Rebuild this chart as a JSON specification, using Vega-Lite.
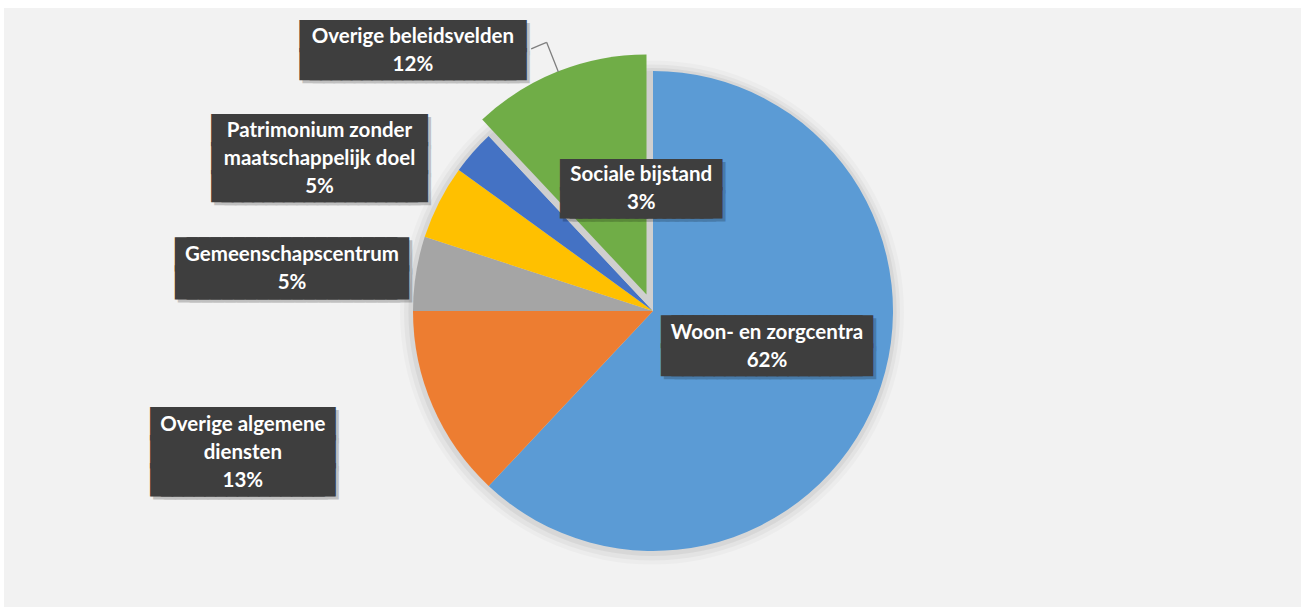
{
  "$schema": "https://vega.github.io/schema/vega-lite/v6.json",
  "width": 1297,
  "height": 599,
  "autosize": {"type": "none"},
  "padding": {"left": 4, "top": 8, "right": 0, "bottom": 0},
  "background": "white",
  "view": {"fill": "#f2f2f2", "stroke": null},
  "config": {
    "view": {"fill": "#f2f2f2", "stroke": null},
    "text": {"font": "Lato", "fontSize": 20.5, "fontWeight": "bold", "lineHeight": 28, "lineBreak": "\n", "align": "center", "baseline": "middle"}
  },
  "data": {
    "values": [
      {"name": "Woon- en zorgcentra", "value": 62},
      {"name": "Overige algemene\ndiensten", "value": 13},
      {"name": "Gemeenschapscentrum", "value": 5},
      {"name": "Patrimonium zonder\nmaatschappelijk doel", "value": 5},
      {"name": "Sociale bijstand", "value": 3},
      {"name": "Overige beleidsvelden", "value": 12}
    ]
  },
  "transform": [
    {"window": [{"op": "row_number", "as": "idx"}]},
    {"stack": "value", "groupby": [], "sort": [{"field": "idx"}], "as": ["s0", "s1"]},
    {"calculate": "(datum.s0 + datum.s1) / 2", "as": "mid"},
    {"calculate": "datum.name + '\\n' + datum.value + '%'", "as": "label"},
    {"calculate": "split(datum.label, '\\n')", "as": "ls"},
    {"calculate": "length(datum.ls[0]) >= length(datum.ls[1]) ? (length(datum.ls[0]) >= length(datum.ls[2] || '') ? datum.ls[0] : datum.ls[2]) : (length(datum.ls[1]) >= length(datum.ls[2] || '') ? datum.ls[1] : datum.ls[2])", "as": "longest"},
    {"calculate": "length(datum.ls) == 3 ? datum.longest + '\\n' + datum.longest + '\\n' + datum.longest : datum.longest + '\\n' + datum.longest", "as": "boxtext"},
    {"calculate": "pad('', length(datum.longest), '█')", "as": "blk"},
    {"calculate": "length(datum.ls) == 3 ? datum.blk + '\\n' + datum.blk + '\\n' + datum.blk : datum.blk + '\\n' + datum.blk", "as": "blocks"}
  ],
  "layer": [
    {
      "transform": [{"aggregate": [{"op": "count", "as": "n"}]}],
      "layer": [
        {"mark": {"type": "arc", "outerRadius": 252, "xOffset": -0.5, "yOffset": 5, "fill": "#000", "opacity": 0.025}, "encoding": {}},
        {"mark": {"type": "arc", "outerRadius": 248, "xOffset": -0.5, "yOffset": 5, "fill": "#000", "opacity": 0.035}, "encoding": {}},
        {"mark": {"type": "arc", "outerRadius": 244, "xOffset": 0, "yOffset": 4.5, "fill": "#000", "opacity": 0.05}, "encoding": {}}
      ]
    },
    {
      "mark": {"type": "arc", "outerRadius": 240, "xOffset": 0.5, "yOffset": 3.5},
      "encoding": {
        "theta": {"field": "s0", "type": "quantitative", "scale": {"domain": [0, 100]}},
        "theta2": {"field": "s1"},
        "color": {
          "field": "name",
          "type": "nominal",
          "scale": {
            "domain": ["Woon- en zorgcentra", "Overige algemene\ndiensten", "Gemeenschapscentrum", "Patrimonium zonder\nmaatschappelijk doel", "Sociale bijstand", "Overige beleidsvelden"],
            "range": ["#5b9bd5", "#ed7d31", "#a5a5a5", "#ffc000", "#4472c4", "#cfcfcf"]
          },
          "legend": null
        }
      }
    },
    {
      "transform": [{"filter": {"field": "name", "equal": "Overige beleidsvelden"}}],
      "layer": [
        {
          "mark": {"type": "arc", "outerRadius": 240, "xOffset": -6, "yOffset": -13, "fill": "#70ad47"},
          "encoding": {
            "theta": {"field": "s0", "type": "quantitative"},
            "theta2": {"field": "s1"}
          }
        },
        {
          "mark": {"type": "arc", "innerRadius": 257, "outerRadius": 289, "xOffset": 0.5, "yOffset": 3.5, "fill": "transparent", "stroke": "#7f7f7f", "strokeWidth": 1.3},
          "encoding": {
            "theta": {"field": "mid", "type": "quantitative"},
            "theta2": {"field": "mid"}
          }
        },
        {
          "mark": {"type": "arc", "innerRadius": 289, "outerRadius": 289, "theta2Offset": -0.058, "xOffset": 0.5, "yOffset": 3.5, "fill": "transparent", "stroke": "#7f7f7f", "strokeWidth": 1.3},
          "encoding": {
            "theta": {"field": "mid", "type": "quantitative"},
            "theta2": {"field": "mid"}
          }
        }
      ]
    },
    {
      "transform": [{"filter": {"field": "name", "equal": "Woon- en zorgcentra"}}],
      "encoding": {"theta": {"field": "mid", "type": "quantitative"}},
      "layer": [
        {"mark": {"type": "text", "radius": 121, "dx": 5, "dy": -16, "font": "DejaVu Sans Mono", "fontSize": 17.5, "fontWeight": "normal", "fill": "#000", "stroke": "#000", "strokeWidth": 12, "opacity": 0.2}, "encoding": {"text": {"field": "blocks"}}},
        {"mark": {"type": "text", "radius": 121, "dx": 2, "dy": -19, "font": "DejaVu Sans Mono", "fontSize": 17.5, "fontWeight": "normal", "fill": "#3e3e3e", "stroke": "#3e3e3e", "strokeWidth": 12}, "encoding": {"text": {"field": "blocks"}}},
        {"mark": {"type": "text", "radius": 121, "dx": 2, "dy": -19, "fill": "#3e3e3e", "stroke": "#3e3e3e", "strokeWidth": 10, "strokeJoin": "round"}, "encoding": {"text": {"field": "boxtext"}}},
        {"mark": {"type": "text", "radius": 121, "dx": 2, "dy": -19, "fill": "white"}, "encoding": {"text": {"field": "label"}}}
      ]
    },
    {
      "transform": [{"filter": {"field": "name", "equal": "Overige algemene\ndiensten"}}],
      "encoding": {"theta": {"field": "mid", "type": "quantitative"}},
      "layer": [
        {"mark": {"type": "text", "radius": 430, "dx": -12, "dy": -50, "font": "DejaVu Sans Mono", "fontSize": 18, "fontWeight": "normal", "fill": "#000", "stroke": "#000", "strokeWidth": 12, "opacity": 0.2}, "encoding": {"text": {"field": "blocks"}}},
        {"mark": {"type": "text", "radius": 430, "dx": -15, "dy": -53, "font": "DejaVu Sans Mono", "fontSize": 18, "fontWeight": "normal", "fill": "#3e3e3e", "stroke": "#3e3e3e", "strokeWidth": 12}, "encoding": {"text": {"field": "blocks"}}},
        {"mark": {"type": "text", "radius": 430, "dx": -15, "dy": -53, "fill": "#3e3e3e", "stroke": "#3e3e3e", "strokeWidth": 10, "strokeJoin": "round"}, "encoding": {"text": {"field": "boxtext"}}},
        {"mark": {"type": "text", "radius": 430, "dx": -15, "dy": -53, "fill": "white"}, "encoding": {"text": {"field": "label"}}}
      ]
    },
    {
      "transform": [{"filter": {"field": "name", "equal": "Gemeenschapscentrum"}}],
      "encoding": {"theta": {"field": "mid", "type": "quantitative"}},
      "layer": [
        {"mark": {"type": "text", "radius": 364, "dx": 2, "dy": 7, "font": "DejaVu Sans Mono", "fontSize": 19.5, "fontWeight": "normal", "fill": "#000", "stroke": "#000", "strokeWidth": 11, "opacity": 0.2}, "encoding": {"text": {"field": "blocks"}}},
        {"mark": {"type": "text", "radius": 364, "dx": -1, "dy": 4, "font": "DejaVu Sans Mono", "fontSize": 19.5, "fontWeight": "normal", "fill": "#3e3e3e", "stroke": "#3e3e3e", "strokeWidth": 11}, "encoding": {"text": {"field": "blocks"}}},
        {"mark": {"type": "text", "radius": 364, "dx": -1, "dy": 4, "fill": "#3e3e3e", "stroke": "#3e3e3e", "strokeWidth": 10, "strokeJoin": "round"}, "encoding": {"text": {"field": "boxtext"}}},
        {"mark": {"type": "text", "radius": 364, "dx": -1, "dy": 4, "fill": "white"}, "encoding": {"text": {"field": "label"}}}
      ]
    },
    {
      "transform": [{"filter": {"field": "name", "equal": "Patrimonium zonder\nmaatschappelijk doel"}}],
      "encoding": {"theta": {"field": "mid", "type": "quantitative"}},
      "layer": [
        {"mark": {"type": "text", "radius": 367, "dx": -3, "dy": -7, "font": "DejaVu Sans Mono", "fontSize": 17, "fontWeight": "normal", "fill": "#000", "stroke": "#000", "strokeWidth": 12, "opacity": 0.2}, "encoding": {"text": {"field": "blocks"}}},
        {"mark": {"type": "text", "radius": 367, "dx": -6, "dy": -10, "font": "DejaVu Sans Mono", "fontSize": 17, "fontWeight": "normal", "fill": "#3e3e3e", "stroke": "#3e3e3e", "strokeWidth": 12}, "encoding": {"text": {"field": "blocks"}}},
        {"mark": {"type": "text", "radius": 367, "dx": -6, "dy": -10, "fill": "#3e3e3e", "stroke": "#3e3e3e", "strokeWidth": 10, "strokeJoin": "round"}, "encoding": {"text": {"field": "boxtext"}}},
        {"mark": {"type": "text", "radius": 367, "dx": -6, "dy": -10, "fill": "white"}, "encoding": {"text": {"field": "label"}}}
      ]
    },
    {
      "transform": [{"filter": {"field": "name", "equal": "Sociale bijstand"}}],
      "encoding": {"theta": {"field": "mid", "type": "quantitative"}},
      "layer": [
        {"mark": {"type": "text", "radius": 91, "dx": 60, "dy": -69, "font": "DejaVu Sans Mono", "fontSize": 15.5, "fontWeight": "normal", "fill": "#000", "stroke": "#000", "strokeWidth": 13, "opacity": 0.2}, "encoding": {"text": {"field": "blocks"}}},
        {"mark": {"type": "text", "radius": 91, "dx": 57, "dy": -72, "font": "DejaVu Sans Mono", "fontSize": 15.5, "fontWeight": "normal", "fill": "#3e3e3e", "stroke": "#3e3e3e", "strokeWidth": 13}, "encoding": {"text": {"field": "blocks"}}},
        {"mark": {"type": "text", "radius": 91, "dx": 57, "dy": -72, "fill": "#3e3e3e", "stroke": "#3e3e3e", "strokeWidth": 10, "strokeJoin": "round"}, "encoding": {"text": {"field": "boxtext"}}},
        {"mark": {"type": "text", "radius": 91, "dx": 57, "dy": -72, "fill": "white"}, "encoding": {"text": {"field": "label"}}}
      ]
    },
    {
      "transform": [{"filter": {"field": "name", "equal": "Overige beleidsvelden"}}],
      "encoding": {"theta": {"field": "s0", "type": "quantitative"}},
      "layer": [
        {"mark": {"type": "text", "radius": 350, "dx": 3, "dy": -12, "font": "DejaVu Sans Mono", "fontSize": 17, "fontWeight": "normal", "fill": "#000", "stroke": "#000", "strokeWidth": 12, "opacity": 0.2}, "encoding": {"text": {"field": "blocks"}}},
        {"mark": {"type": "text", "radius": 350, "dx": 0, "dy": -15, "font": "DejaVu Sans Mono", "fontSize": 17, "fontWeight": "normal", "fill": "#3e3e3e", "stroke": "#3e3e3e", "strokeWidth": 12}, "encoding": {"text": {"field": "blocks"}}},
        {"mark": {"type": "text", "radius": 350, "dx": 0, "dy": -15, "fill": "#3e3e3e", "stroke": "#3e3e3e", "strokeWidth": 10, "strokeJoin": "round"}, "encoding": {"text": {"field": "boxtext"}}},
        {"mark": {"type": "text", "radius": 350, "dx": 0, "dy": -15, "fill": "white"}, "encoding": {"text": {"field": "label"}}}
      ]
    }
  ]
}
